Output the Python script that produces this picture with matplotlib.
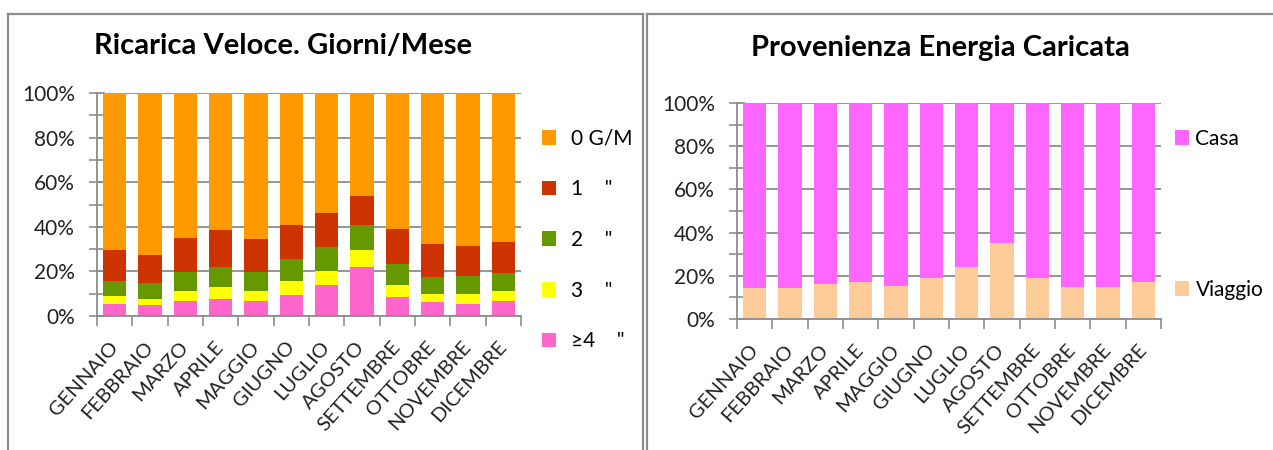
import matplotlib
matplotlib.use("Agg")
import matplotlib.pyplot as plt
from matplotlib.lines import Line2D
from matplotlib.patches import Patch
import numpy as np

plt.rcParams['font.family'] = ['Lato', 'DejaVu Sans']

months = ["GENNAIO", "FEBBRAIO", "MARZO", "APRILE", "MAGGIO", "GIUGNO",
          "LUGLIO", "AGOSTO", "SETTEMBRE", "OTTOBRE", "NOVEMBRE", "DICEMBRE"]

# Left chart: share of days per month (percent), by number of fast charges per day
ge4 = [5.4, 4.8, 6.7, 7.8, 6.7, 9.6, 13.8, 22.0, 8.4, 6.1, 5.5, 6.7]
g3 = [3.6, 3.0, 4.7, 5.4, 4.7, 6.0, 6.4, 7.6, 5.4, 3.6, 4.2, 4.7]
g2 = [6.6, 7.2, 8.2, 8.8, 8.2, 10.0, 10.8, 11.4, 9.4, 7.7, 8.3, 7.8]
g1 = [14.0, 12.4, 15.4, 16.6, 14.8, 15.4, 15.3, 13.0, 16.0, 14.8, 13.6, 14.0]
g0 = [70.4, 72.6, 65.0, 61.4, 65.6, 59.0, 53.7, 46.0, 60.8, 67.8, 68.4, 66.8]
left_labels = ['≥4    "', '3    "', '2    "', '1    "', '0 G/M']
left_colors = ['#FF66CC', '#FFFF00', '#669900', '#CC3300', '#FF9900']

# Right chart: origin of charged energy (percent)
viaggio = [14.2, 14.2, 16.0, 17.3, 15.4, 19.0, 23.9, 35.0, 19.0, 14.7, 14.7, 17.3]
casa = [85.8, 85.8, 84.0, 82.7, 84.6, 81.0, 76.1, 65.0, 81.0, 85.3, 85.3, 82.7]
right_labels = ['Viaggio', 'Casa']
right_colors = ['#FFCC99', '#FF66FF']

yticks = [0, 20, 40, 60, 80, 100]
ytick_labels = ['0%', '20%', '40%', '60%', '80%', '100%']

W, H = 1273, 450
fig = plt.figure(figsize=(W / 100, H / 100), dpi=100)

def fx(px):
    return px / W

def fy(py):
    return 1 - py / H

grey = '#8C8C8C'
tick_fs = 15
lab_fs = 14.5
leg_fs = 15

def style_axes(ax):
    x = np.arange(len(months))
    ax.set_xlim(-0.5, len(months) - 0.5)
    ax.set_ylim(0, 100)
    ax.set_yticks(yticks)
    ax.set_yticklabels(ytick_labels, fontsize=tick_fs, color='#222222')
    ax.set_yticks([10, 30, 50, 70, 90], minor=True)
    ax.tick_params(axis='y', which='both', direction='inout', length=12,
                   color=grey, width=1.2, pad=10)
    ax.set_xticks(x)
    ax.set_xticklabels(months, rotation=48, ha='right', va='center',
                       rotation_mode='anchor', fontsize=lab_fs, color='#222222')
    ax.tick_params(axis='x', which='major', length=0, pad=20)
    ax.set_xticks(np.arange(-0.5, len(months)), minor=True)
    ax.tick_params(axis='x', which='minor', direction='out', length=7,
                   color=grey, width=1.2)
    ax.grid(axis='y', which='major', color=grey, linewidth=1.3, zorder=0)
    ax.set_axisbelow(True)
    for s in ['top', 'right']:
        ax.spines[s].set_visible(False)
    for s in ['left', 'bottom']:
        ax.spines[s].set_color(grey)
        ax.spines[s].set_linewidth(1.3)

# Left chart
ax1 = fig.add_axes([fx(97), fy(316), fx(424), fy(93) - fy(316)])
x = np.arange(len(months))
bottom = np.zeros(len(months))
handles1 = []
for vals, col, lab in zip([ge4, g3, g2, g1, g0], left_colors, left_labels):
    ax1.bar(x, vals, width=0.66, bottom=bottom, color=col, zorder=2)
    bottom += np.array(vals)
    handles1.append(Patch(facecolor=col, label=lab))
style_axes(ax1)

# Right chart
ax2 = fig.add_axes([fx(737), fy(319), fx(424), fy(103) - fy(319)])
bottom = np.zeros(len(months))
handles2 = []
for vals, col, lab in zip([viaggio, casa], right_colors, right_labels):
    ax2.bar(x, vals, width=0.66, bottom=bottom, color=col, zorder=2)
    bottom += np.array(vals)
    handles2.append(Patch(facecolor=col, label=lab))
style_axes(ax2)

# Legends
leg1 = fig.legend(handles=handles1[::-1], loc='upper left',
                  bbox_to_anchor=(fx(525), fy(112)), frameon=False,
                  fontsize=leg_fs, handlelength=0.7, handleheight=0.7,
                  handletextpad=0.7, labelspacing=1.47, borderpad=0.3)
leg2 = fig.legend(handles=handles2[::-1], loc='upper left',
                  bbox_to_anchor=(fx(1158), fy(112)), frameon=False,
                  fontsize=leg_fs, handlelength=0.7, handleheight=0.7,
                  handletextpad=0.3, labelspacing=6.3, borderpad=0.3)

# Titles
fig.text(fx(283), fy(46), 'Ricarica Veloce. Giorni/Mese', ha='center',
         va='center', fontsize=21, fontweight='bold', color='black')
fig.text(fx(940), fy(48), 'Provenienza Energia Caricata', ha='center',
         va='center', fontsize=21, fontweight='bold', color='black')

# Panel borders
bw = 1.6
fig.add_artist(Line2D([fx(8), fx(8)], [fy(14), 0], color=grey, lw=bw))
fig.add_artist(Line2D([fx(8), fx(643)], [fy(14), fy(14)], color=grey, lw=bw))
fig.add_artist(Line2D([fx(643), fx(643)], [fy(14), 0], color=grey, lw=bw))
fig.add_artist(Line2D([fx(647), fx(647)], [fy(14), 0], color=grey, lw=bw))
fig.add_artist(Line2D([fx(647), 1], [fy(14), fy(14)], color=grey, lw=bw))

fig.savefig('out.png', dpi=100)
